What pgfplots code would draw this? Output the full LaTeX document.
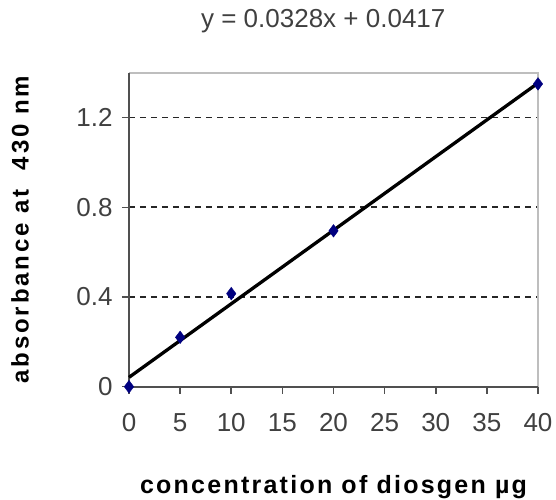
\documentclass[border=0pt]{standalone}
\usepackage{pgfplots}
\pgfplotsset{compat=1.18}
\usepackage{fontspec}
\setmainfont{Liberation Sans}
\definecolor{navy}{HTML}{000080}
\definecolor{axdark}{HTML}{505050}
\definecolor{axlight}{HTML}{BEBEBE}
\begin{document}
\begin{tikzpicture}
\useasboundingbox (-129pt,-112.3pt) rectangle (427pt,386.7pt);
\begin{axis}[
  at={(0,0)}, anchor=south west,
  width=409pt, height=314pt, scale only axis,
  xmin=0, xmax=40, ymin=0, ymax=1.4,
  xtick={0,5,...,40},
  ytick={0,0.4,0.8,1.2},
  yticklabels={0,0.4,0.8,1.2},
  ymajorgrids,
  grid style={black!85, dash pattern=on 6pt off 5pt, line width=1.6pt},
  axis line style={draw=none},
  tick style={axdark, line width=1.5pt},
  major tick length=7pt,
  tick align=outside,
  xtick pos=bottom, ytick pos=left,
  tick label style={font=\fontsize{26}{28}\selectfont, text=black!75},
  /pgf/number format/assume math mode=true,
  xticklabel style={yshift=-16pt},
  yticklabel style={xshift=-6pt},
  clip=false,
  xlabel={\addfontfeature{LetterSpace=9}\bfseries concentration of diosgen µg},
  xlabel style={font=\fontsize{25}{28}\selectfont, at={(axis description cs:0.5,0)}, anchor=center, yshift=-100.3pt},
  ylabel={\addfontfeature{LetterSpace=12}\bfseries absorbance at\ \ 430 nm},
  ylabel style={font=\fontsize{24}{28}\selectfont, at={(axis description cs:0,0.5)}, anchor=center, xshift=0pt, yshift=109pt},
  title={y = 0.0328x + 0.0417},
  title style={font=\fontsize{26}{28}\selectfont, text=black!75, at={(axis description cs:0.475,1)}, anchor=center, yshift=45.7pt},
]
\draw[axlight, line width=2pt] (rel axis cs:0,1) -- (rel axis cs:1,1) -- (rel axis cs:1,0);
\draw[axdark, line width=2pt] (rel axis cs:0,1) -- (rel axis cs:0,0) -- (rel axis cs:1,0);
\addplot[only marks, mark=diamond*, mark size=6.3pt, navy, mark options={fill=navy, draw=navy}] coordinates {
(0,0.0) (5,0.22) (10,0.415) (20,0.695) (40,1.35)
};
\addplot[black, line width=3.3pt, no marks] coordinates {(0,0.0417) (40,1.3537)};
\end{axis}
\end{tikzpicture}
\end{document}
